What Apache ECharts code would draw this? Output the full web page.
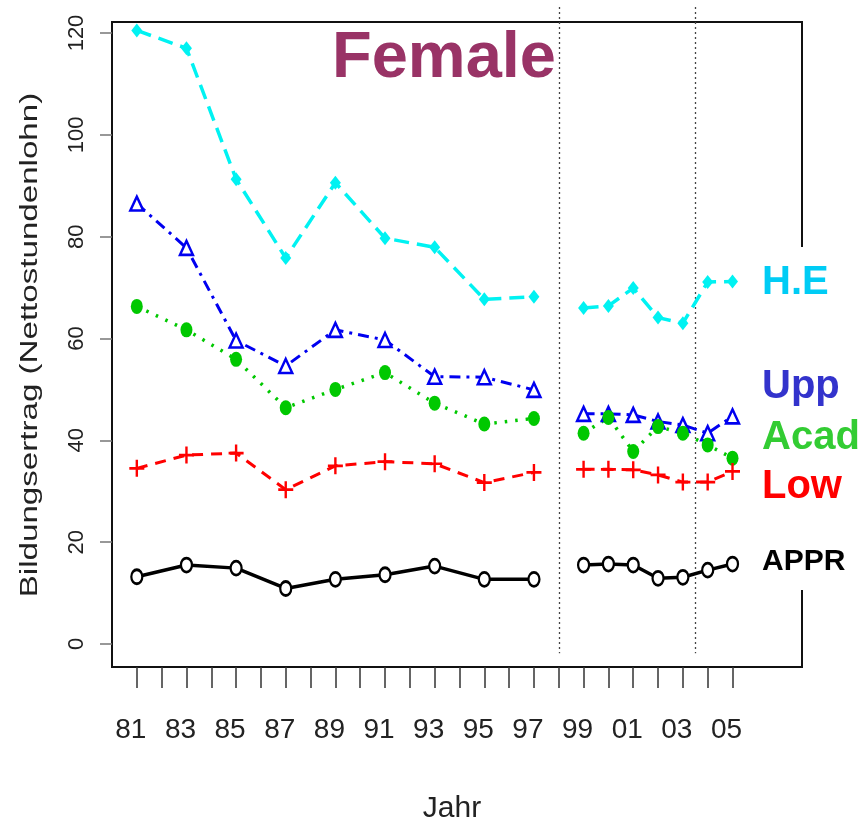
<!DOCTYPE html>
<html>
<head>
<meta charset="utf-8">
<title>Female – Bildungsertrag</title>
<script src="https://cdn.jsdelivr.net/npm/echarts@6/dist/echarts.min.js"></script>
<style>
  html, body { margin: 0; padding: 0; background: #fff; }
  #chart { width: 865px; height: 823px; }
</style>
</head>
<body>
<div id="chart"></div>
<script>
// Survey years: two-year steps up to 1997, yearly from 1999 on
const yearsEarly = [1981, 1983, 1985, 1987, 1989, 1991, 1993, 1995, 1997];
const yearsLate  = [1999, 2000, 2001, 2002, 2003, 2004, 2005];

// Returns to education (net hourly wage), by group
const heEarly   = [120.5, 117.0, 91.3, 75.8, 90.6, 79.7, 77.9, 67.7, 68.2];
const heLate    = [66.0, 66.4, 69.9, 64.1, 63.0, 71.1, 71.2];
const uppEarly  = [86.5, 77.8, 59.6, 54.6, 61.7, 59.7, 52.5, 52.4, 49.9];
const uppLate   = [45.2, 45.2, 45.0, 43.7, 43.0, 41.4, 44.7];
const acadEarly = [66.3, 61.7, 55.9, 46.4, 50.0, 53.3, 47.3, 43.2, 44.3];
const acadLate  = [41.4, 44.5, 37.8, 42.7, 41.4, 39.1, 36.5];
const lowEarly  = [34.5, 37.1, 37.5, 30.3, 35.0, 35.8, 35.4, 31.7, 33.7];
const lowLate   = [34.3, 34.3, 34.2, 33.2, 31.8, 31.8, 33.9];
const apprEarly = [13.2, 15.5, 14.9, 10.9, 12.7, 13.6, 15.3, 12.7, 12.7];
const apprLate  = [15.5, 15.7, 15.5, 12.9, 13.1, 14.5, 15.7];

// Axis ticks and labels
const xTickYears  = [];
for (let y = 1981; y <= 2005; y++) xTickYears.push(y);
const xLabelYears = [1981, 1983, 1985, 1987, 1989, 1991, 1993, 1995, 1997, 1999, 2001, 2003, 2005];
const yTickValues = [0, 20, 40, 60, 80, 100, 120];
const breakYears  = [1998, 2003.5];

const groupNames = ['H.E', 'Upp', 'Acad', 'Low', 'APPR'];

const pair = (xs, ys) => xs.map((x, i) => [x, ys[i]]);

const plusPath = 'path://M4.2,0H5.8V4.2H10V5.8H5.8V10H4.2V5.8H0V4.2H4.2Z';

const groupStyles = {
  'H.E':  { line: { color: '#00F2F2', width: 3.5, type: [15, 8] },
            symbol: 'diamond', size: [11, 14], item: { color: '#00F2F2' } },
  'Upp':  { line: { color: '#0000F0', width: 3, type: [11, 6, 3, 6] },
            symbol: 'triangle', size: [13, 14], item: { color: '#fff', borderColor: '#0000F0', borderWidth: 2.5 } },
  'Acad': { line: { color: '#00C800', width: 3.5, type: [2.5, 8] },
            symbol: 'circle', size: [12, 15], item: { color: '#00C800' } },
  'Low':  { line: { color: '#FF0000', width: 3, type: [11, 8] },
            symbol: plusPath, size: [15, 17], item: { color: '#FF0000' } },
  'APPR': { line: { color: '#000000', width: 3.5, type: 'solid' },
            symbol: 'circle', size: [11, 14], item: { color: '#fff', borderColor: '#000', borderWidth: 2.5 } }
};

const groupData = {
  'H.E':  [heEarly, heLate],
  'Upp':  [uppEarly, uppLate],
  'Acad': [acadEarly, acadLate],
  'Low':  [lowEarly, lowLate],
  'APPR': [apprEarly, apprLate]
};

const series = [];
groupNames.forEach(name => {
  const st = groupStyles[name];
  [[yearsEarly, groupData[name][0]], [yearsLate, groupData[name][1]]].forEach(([xs, ys]) => {
    series.push({
      name: name,
      type: 'line',
      data: pair(xs, ys),
      symbol: st.symbol,
      symbolSize: st.size,
      showAllSymbol: true,
      lineStyle: { color: st.line.color, width: st.line.width, type: st.line.type },
      itemStyle: st.item,
      emphasis: { disabled: true },
      animation: false,
      z: 3
    });
  });
});

const chart = echarts.init(document.getElementById('chart'), null, { renderer: 'canvas' });

const baseFont = "'Liberation Sans', Arial, Helvetica, sans-serif";
const narrowFont = "'Liberation Sans Narrow', 'Liberation Sans', sans-serif";

const labelTexts = [
  { text: 'H.E',  y: 283, color: '#00CCF5', size: 40 },
  { text: 'Upp',  y: 387, color: '#3333CC', size: 40 },
  { text: 'Acad', y: 438, color: '#33CC33', size: 40 },
  { text: 'Low',  y: 487, color: '#FF0000', size: 40 },
  { text: 'APPR', y: 562, color: '#000000', size: 30 }
];

chart.setOption({
  animation: false,
  backgroundColor: '#ffffff',
  textStyle: { fontFamily: baseFont },
  title: {
    text: 'Female',
    left: 332, top: 27, padding: 0,
    textStyle: { fontFamily: baseFont, fontSize: 65, fontWeight: 'bold', color: '#993366' }
  },
  grid: {
    left: 112, top: 22, width: 690, height: 645,
    outerBoundsMode: 'none',
    containLabel: false,
    show: true, borderColor: '#111', borderWidth: 2, backgroundColor: 'transparent'
  },
  xAxis: {
    type: 'value',
    min: 1980, max: 2007.8,
    name: 'Jahr',
    nameLocation: 'middle',
    nameGap: 127,
    nameTextStyle: { fontFamily: narrowFont, fontSize: 30, color: '#222', padding: [0, 10, 0, 0] },
    axisLine: { show: false, onZero: false },
    splitLine: { show: false },
    axisTick: { show: true, inside: false, customValues: xTickYears, length: 21, lineStyle: { color: '#333', width: 1.5 } },
    axisLabel: {
      customValues: xLabelYears,
      formatter: v => String(v % 100).padStart(2, '0'),
      fontFamily: narrowFont, fontSize: 28, color: '#222',
      margin: 49, padding: [0, 12, 0, 0]
    }
  },
  yAxis: {
    type: 'value',
    min: -4.52, max: 122.16,
    axisLine: { show: false, onZero: false },
    splitLine: { show: false },
    axisTick: { show: true, inside: false, customValues: yTickValues, length: 12, lineStyle: { color: '#777', width: 1.5 } },
    axisLabel: {
      customValues: yTickValues,
      rotate: 90,
      fontFamily: baseFont, fontSize: 22, color: '#222',
      margin: 24
    }
  },
  series: series
});

// Dotted separators at the survey breaks, placed through the axis scales
const yTop = chart.convertToPixel({ yAxisIndex: 0 }, 125.1);
const yBottom = chart.convertToPixel({ yAxisIndex: 0 }, -1.8);
const breakLines = breakYears.map(yr => {
  const x = Math.round(chart.convertToPixel({ xAxisIndex: 0 }, yr)) + 0.5;
  return {
    type: 'line', z: 2,
    shape: { x1: x, y1: yTop, x2: x, y2: yBottom },
    style: { stroke: '#444', lineWidth: 1.3, lineDash: [2, 3] }
  };
});

const graphics = [
  // y-axis title, stretched along its reading direction
  {
    type: 'text', x: 31, y: 345, rotation: Math.PI / 2, scaleX: 1.44, z: 10,
    style: {
      text: 'Bildungsertrag (Nettostundenlohn)',
      fontFamily: baseFont, fontSize: 23, fill: '#222',
      align: 'center', verticalAlign: 'middle'
    }
  },
  // white panel behind the group labels (interrupts the right frame edge)
  { type: 'rect', shape: { x: 752, y: 247, width: 113, height: 343 }, style: { fill: '#fff' }, z: 10 }
].concat(labelTexts.map(l => ({
  type: 'text', x: 762, y: l.y, z: 11,
  style: {
    text: l.text, fontFamily: baseFont, fontSize: l.size, fontWeight: 'bold',
    fill: l.color, align: 'left', verticalAlign: 'middle'
  }
}))).concat(breakLines);

chart.setOption({ graphic: graphics });
</script>
</body>
</html>
